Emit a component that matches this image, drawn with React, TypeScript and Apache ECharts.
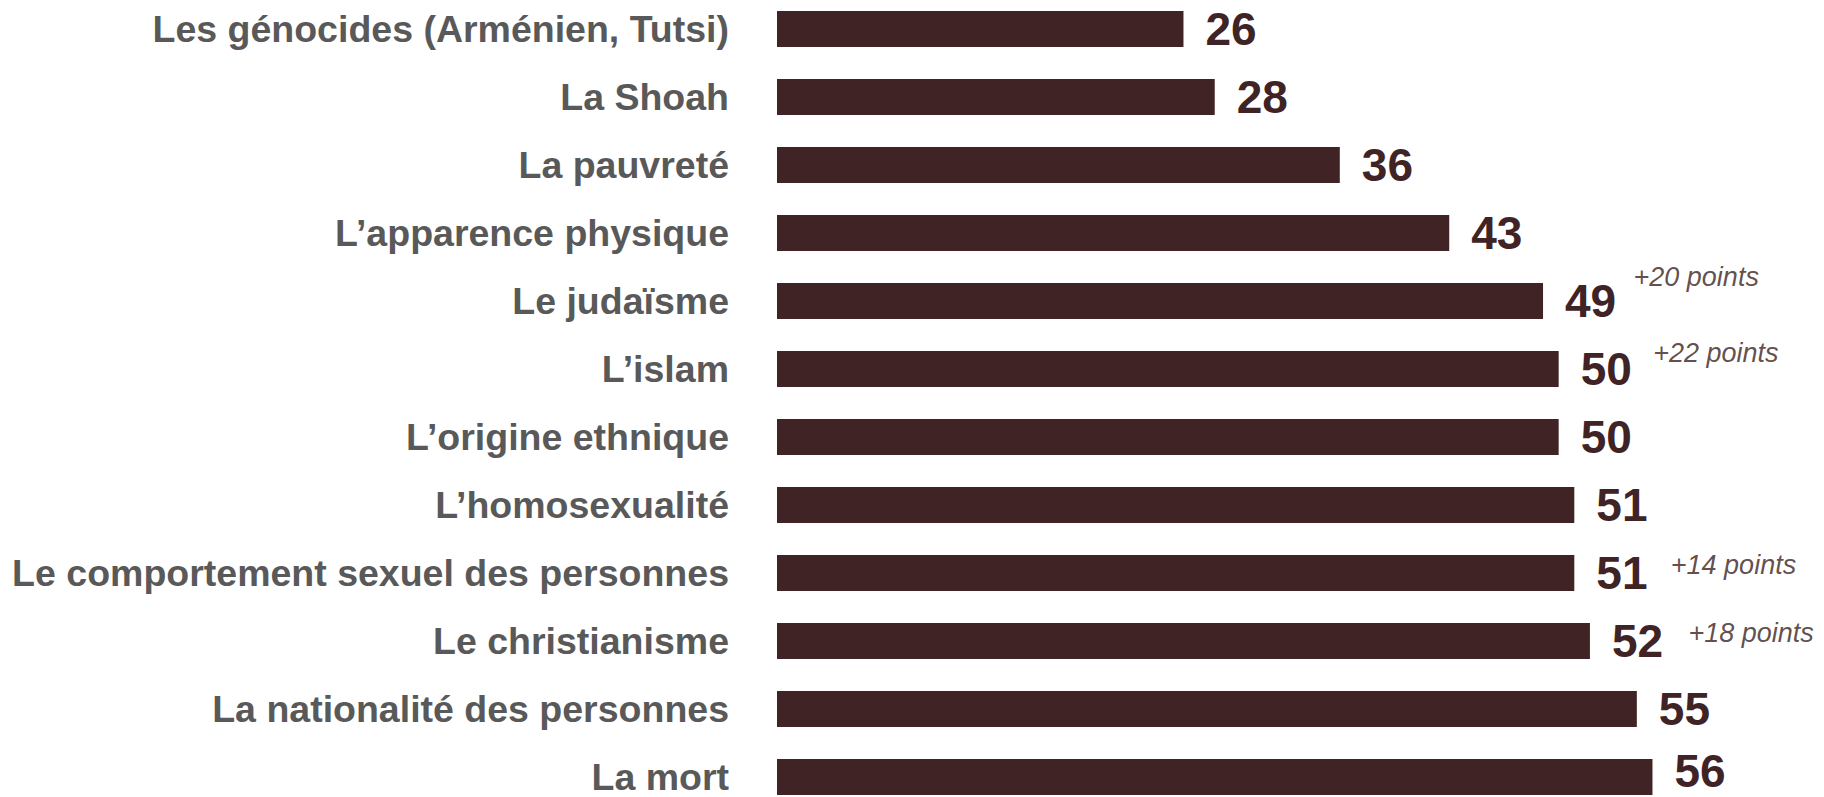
import React, { useEffect, useRef } from "react";
import * as echarts from "echarts";

const categories = [
  "Les génocides (Arménien, Tutsi)",
  "La Shoah",
  "La pauvreté",
  "L’apparence physique",
  "Le judaïsme",
  "L’islam",
  "L’origine ethnique",
  "L’homosexualité",
  "Le comportement sexuel des personnes",
  "Le christianisme",
  "La nationalité des personnes",
  "La mort",
];
const values = [26, 28, 36, 43, 49, 50, 50, 51, 51, 52, 55, 56];

const noteCategories = ["Le judaïsme", "L’islam", "Le comportement sexuel des personnes", "Le christianisme"];
const noteTexts = ["+20 points", "+22 points", "+14 points", "+18 points"];
const noteOffsets = [
  [90, -24],
  [94, -16],
  [96, -8],
  [98, -8],
];

const BAR = "#402325";
const FONT = "'Liberation Sans', Arial, sans-serif";

export default function App() {
  const ref = useRef<HTMLDivElement>(null);
  useEffect(() => {
    document.body.style.margin = "0";
    const chart = echarts.init(ref.current!, null, { renderer: "svg" });
    const noteData = noteCategories.map((c, i) => ({
      value: [values[categories.indexOf(c)], c],
      label: { formatter: noteTexts[i], offset: noteOffsets[i] },
    }));
    const barData = values.map((v, i) =>
      i === values.length - 1 ? { value: v, label: { offset: [0, -6] } } : v
    );
    chart.setOption({
      animation: false,
      grid: { left: 777, right: 109, top: 0, height: 816, containLabel: false },
      xAxis: {
        type: "value",
        min: 0,
        max: 60,
        show: false,
      },
      yAxis: {
        type: "category",
        data: categories,
        inverse: true,
        axisLine: { show: false },
        axisTick: { show: false },
        splitLine: { show: false },
        axisLabel: {
          margin: 48,
          color: "#595959",
          fontFamily: FONT,
          fontWeight: "bold",
          fontSize: 37.5,
        },
      },
      series: [
        {
          type: "bar",
          data: barData,
          barWidth: 36,
          itemStyle: { color: BAR },
          label: {
            show: true,
            position: "right",
            distance: 22,
            color: BAR,
            fontFamily: FONT,
            fontWeight: "bold",
            fontSize: 46,
            lineHeight: 34,
          },
        },
        {
          type: "scatter",
          data: noteData,
          symbolSize: 1,
          itemStyle: { color: "rgba(0,0,0,0)" },
          label: {
            show: true,
            position: "right",
            distance: 0,
            color: "#3a1f20",
            fontFamily: FONT,
            fontStyle: "italic",
            fontSize: 27,
          },
        },
      ],
    });
    return () => chart.dispose();
  }, []);
  return (
    <div style={{ width: 1824, height: 797, overflow: "hidden", position: "relative" }}>
      <div ref={ref} style={{ position: "absolute", left: 0, top: -5, width: 1824, height: 830 }} />
    </div>
  );
}
